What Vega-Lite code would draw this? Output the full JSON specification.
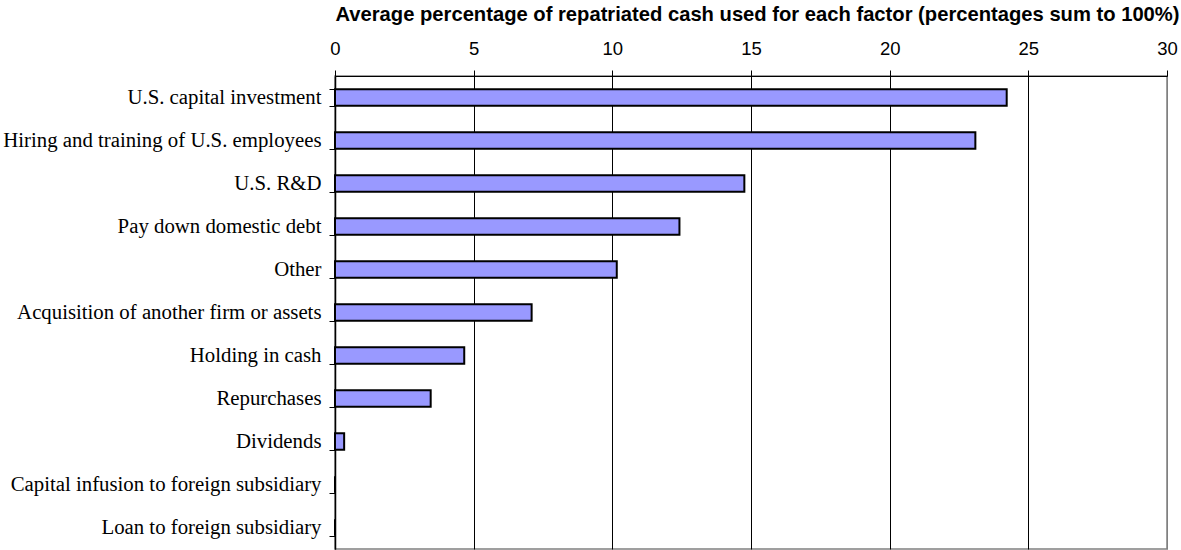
{
  "$schema": "https://vega.github.io/schema/vega-lite/v6.json",
  "width": 832,
  "height": 473,
  "autosize": "none",
  "padding": {"left": 335, "top": 76, "right": 14, "bottom": 1},
  "background": "white",
  "config": {
    "view": {"stroke": "#808080", "strokeWidth": 1.5}
  },
  "data": {
    "values": [
      {"factor": "U.S. capital investment", "pct": 24.22},
      {"factor": "Hiring and training of U.S. employees", "pct": 23.09},
      {"factor": "U.S. R&D", "pct": 14.76},
      {"factor": "Pay down domestic debt", "pct": 12.42},
      {"factor": "Other", "pct": 10.16},
      {"factor": "Acquisition of another firm or assets", "pct": 7.09},
      {"factor": "Holding in cash", "pct": 4.66},
      {"factor": "Repurchases", "pct": 3.45},
      {"factor": "Dividends", "pct": 0.33},
      {"factor": "Capital infusion to foreign subsidiary", "pct": 0},
      {"factor": "Loan to foreign subsidiary", "pct": 0}
    ]
  },
  "mark": {"type": "bar", "fill": "#9999FF", "stroke": "#000000", "strokeWidth": 2},
  "encoding": {
    "y": {
      "field": "factor",
      "type": "nominal",
      "sort": null,
      "scale": {"paddingInner": 0.62, "paddingOuter": 0.31},
      "axis": {
        "title": null,
        "labelFont": "Liberation Serif",
        "labelFontSize": 20.8,
        "labelColor": "#000000",
        "labelPadding": 8,
        "labelLimit": 400,
        "tickBand": "extent",
        "tickSize": 6,
        "tickColor": "#000000",
        "domainColor": "#000000",
        "domainWidth": 1.5
      }
    },
    "x": {
      "field": "pct",
      "type": "quantitative",
      "scale": {"domain": [0, 30], "nice": false},
      "axis": {
        "orient": "top",
        "values": [0, 5, 10, 15, 20, 25, 30],
        "title": "Average percentage of repatriated cash used for each factor (percentages sum to 100%)",
        "titleFont": "Liberation Sans",
        "titleFontSize": 20.2,
        "titleFontWeight": "bold",
        "titleColor": "#000000",
        "titleBaseline": "alphabetic",
        "titleAnchor": null,
        "titleAlign": "center",
        "titleX": 422,
        "titleY": -55.5,
        "labelFont": "Liberation Sans",
        "labelFontSize": 18.5,
        "labelColor": "#000000",
        "labelPadding": 12,
        "labelFlush": false,
        "tickSize": 6,
        "tickColor": "#000000",
        "domainColor": "#000000",
        "grid": true,
        "gridColor": {"condition": {"test": "datum.value == 30", "value": "#808080"}, "value": "#000000"},
        "gridOpacity": 1
      }
    }
  }
}
